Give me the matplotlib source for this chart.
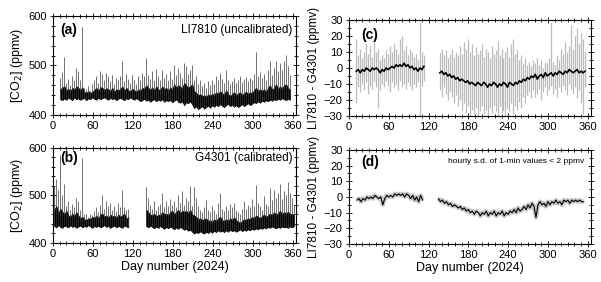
import numpy as np
import matplotlib
matplotlib.use('Agg')
import matplotlib.pyplot as plt
from matplotlib.ticker import MultipleLocator

plt.rcParams['font.family'] = ['Liberation Sans', 'DejaVu Sans']

# ---- panel (a) LI7810, 3-day bins from day 11 ----
a_start = 11
a_hi = [475, 486, 518, 465, 472, 460, 478, 470, 495, 488,
        470, 578, 455, 452, 458, 450, 462, 470, 478, 465,
        488, 482, 470, 485, 478, 468, 480, 462, 475, 470,
        478, 510, 468, 482, 472, 465, 480, 470, 462, 478,
        470, 485, 478, 515, 480, 472, 488, 470, 492, 478,
        470, 490, 475, 482, 470, 488, 472, 500, 480, 495,
        485, 475, 505, 498, 482, 490, 500, 470, 478, 462,
        470, 458, 465, 455, 468, 460, 470, 462, 478, 470,
        485, 472, 465, 490, 470, 462, 468, 475, 465, 470,
        478, 466, 472, 476, 468, 474, 470, 482, 528, 478,
        486, 475, 482, 470, 490, 510, 480, 495, 510, 488,
        505, 490, 510, 522, 498, 480]
a_mid = [452, 455, 458, 450, 453, 448, 455, 450, 458, 455,
         450, 456, 446, 445, 448, 444, 447, 450, 455, 448,
         456, 455, 450, 454, 452, 448, 455, 446, 452, 450,
         452, 458, 448, 455, 450, 447, 453, 450, 446, 452,
         448, 455, 452, 460, 455, 450, 456, 448, 458, 452,
         450, 458, 452, 455, 448, 456, 450, 462, 455, 460,
         458, 452, 465, 460, 455, 458, 462, 448, 445, 440,
         442, 438, 440, 436, 442, 438, 443, 440, 446, 442,
         448, 444, 440, 450, 442, 438, 442, 446, 440, 443,
         446, 440, 444, 447, 442, 446, 444, 450, 455, 448,
         452, 448, 452, 446, 455, 460, 450, 455, 462, 452,
         458, 452, 460, 462, 455, 450]
a_lo = [432, 430, 434, 431, 435, 433, 430, 436, 432, 434,
        431, 433, 435, 430, 434, 432, 436, 433, 431, 435,
        432, 434, 436, 433, 431, 435, 432, 434, 430, 433,
        435, 432, 430, 434, 432, 436, 433, 431, 434, 432,
        428, 430, 433, 429, 431, 427, 430, 432, 428, 431,
        429, 432, 427, 430, 428, 431, 426, 429, 432, 427,
        425, 428, 420, 426, 424, 428, 422, 414, 418, 412,
        415, 418, 413, 416, 419, 415, 420, 417, 421, 418,
        422, 419, 416, 420, 423, 418, 421, 417, 420, 416,
        419, 422, 418, 421, 424, 420, 423, 426, 424, 428,
        425, 429, 427, 430, 428, 431, 429, 432, 430, 433,
        431, 434, 432, 430, 433, 431]

# ---- panel (b) G4301, two segments ----
b1_start = 2
b1_hi = [520, 535, 512, 585, 500, 525, 478, 488, 470, 482,
         475, 495, 488, 470, 578, 460, 462, 455, 460, 458,
         468, 475, 465, 480, 500, 472, 488, 478, 485, 470,
         478, 468, 485, 475, 512, 475, 470, 472]
b1_mid = [470, 478, 462, 472, 466, 460, 468, 458, 455, 462,
          456, 465, 458, 452, 455, 450, 448, 452, 450, 455,
          452, 458, 450, 460, 462, 455, 458, 452, 460, 455,
          458, 452, 460, 455, 458, 462, 450, 455]
b1_lo = [436, 433, 438, 434, 432, 437, 435, 433, 438, 434,
         436, 432, 435, 437, 433, 436, 434, 438, 435, 432,
         436, 434, 437, 433, 435, 438, 434, 436, 432, 435,
         437, 433, 436, 434, 432, 437, 435, 433]
b2_start = 140
b2_hi = [518, 495, 480, 472, 488, 470, 478, 482, 505, 475,
         488, 478, 492, 480, 488, 475, 502, 485, 510, 480,
         495, 488, 520, 478, 518, 495, 478, 470, 465, 475,
         490, 470, 465, 478, 470, 462, 485, 505, 472, 468,
         478, 470, 482, 475, 485, 470, 465, 460, 472, 488,
         472, 480, 475, 492, 478, 522, 485, 478, 470, 498,
         482, 478, 515, 490, 512, 495, 505, 525, 492, 510,
         500, 528, 505, 495, 480]
b2_mid = [470, 465, 460, 458, 462, 455, 460, 458, 465, 460,
          462, 458, 465, 468, 460, 465, 470, 462, 468, 465,
          468, 462, 470, 460, 458, 455, 450, 452, 448, 450,
          452, 446, 448, 444, 450, 446, 452, 455, 448, 446,
          450, 446, 452, 448, 454, 448, 445, 442, 446, 450,
          448, 452, 450, 455, 452, 458, 455, 452, 456, 460,
          455, 458, 462, 458, 465, 460, 462, 468, 460, 465,
          462, 466, 460, 462, 458]
b2_lo = [436, 433, 437, 434, 431, 435, 432, 436, 433, 430,
         434, 431, 435, 432, 429, 433, 430, 434, 431, 428,
         430, 426, 428, 424, 420, 423, 421, 425, 422, 420,
         424, 421, 425, 422, 426, 423, 427, 424, 426, 423,
         427, 424, 428, 425, 427, 424, 426, 429, 425, 428,
         426, 429, 427, 430, 428, 431, 429, 432, 430, 433,
         431, 434, 432, 435, 433, 431, 434, 432, 435, 433,
         434, 432, 435, 433, 436]

# ---- panel (c) hourly difference: mean (black) and range (grey) ----
c1_start = 11
c1_mean = [-2, -1, -3, -1, -2, 0, -1, -2, 0, -1, 0, -1, -3, -1, -2, 0, -1, 0,
           1, 0, 2, 1, 2, 1, 3, 1, 2, 0, 1, -1, 0, -2, 0, -1, 1]
c1_hi = [18, 8, 12, 6, 10, 15, 9, 14, 7, 16, 10, 12, 5, 8, 6, 11, 9, 14,
         10, 15, 12, 9, 18, 20, 11, 14, 8, 12, 10, 7, 9, 5, 29, 10, 8]
c1_lo = [-22, -12, -15, -10, -14, -9, -16, -11, -13, -8, -12, -25, -14, -10,
         -12, -8, -11, -15, -9, -12, -10, -14, -8, -12, -10, -13, -9, -11,
         -14, -10, -12, -9, -30, -11, -8]
c2_start = 137
c2_mean = [-3, -2, -4, -3, -5, -4, -6, -5, -7, -6,
           -8, -7, -8, -9, -8, -10, -9, -10, -11, -9,
           -10, -11, -9, -10, -12, -10, -11, -9, -10, -12,
           -10, -11, -9, -10, -12, -9, -10, -11, -9, -10,
           -8, -9, -7, -8, -6, -7, -5, -6, -4, -7,
           -5, -4, -6, -3, -5, -4, -3, -5, -3, -4,
           -2, -3, -4, -2, -3, -1, -2, -3, -2, -1,
           -3, -2, -3, -2]
c2_hi = [10, 12, 8, 11, 6, 9, 12, 7, 10, 8,
         14, 9, 16, 12, 18, 10, 15, 8, 13, 9,
         11, 15, 7, 12, 10, 6, 14, 9, 11, 17,
         8, 12, 6, 10, 13, 7, 15, 18, 9, 11,
         5, 8, 3, 6, 2, 4, 1, 5, 3, 6,
         2, 5, 0, 4, 3, 6, 29, 4, 2, 8,
         5, 12, 9, 16, 10, 14, 27, 12, 20, 25,
         15, 22, 18, 10]
c2_lo = [-14, -18, -12, -16, -20, -15, -18, -22, -17, -24,
         -20, -26, -22, -28, -24, -30, -26, -29, -25, -30,
         -27, -24, -29, -26, -30, -25, -28, -23, -27, -30,
         -24, -28, -26, -30, -25, -27, -22, -29, -24, -26,
         -21, -25, -18, -22, -17, -15, -19, -14, -18, -16,
         -13, -20, -15, -12, -17, -14, -11, -16, -13, -18,
         -12, -15, -11, -14, -17, -10, -13, -16, -12, -19,
         -14, -22, -29, -12]

# ---- panel (d) filtered difference ----
d1_start = 12
d1 = [-2, -1, -3, -1, -2, 0, -1, 0, -1, 1, 0, -1, 0, -5, -1, 1, 0, 1, 0, 2,
      1, 2, 1, 2, 0, 2, 1, -1, 1, -2, 0, -3, 1, -2]
d2_start = 135
d2 = [-1, -3, -2, -4, -3, -5, -4, -6, -5, -6,
      -7, -6, -8, -7, -9, -8, -10, -9, -11, -9,
      -10, -12, -10, -11, -9, -12, -10, -11, -9, -12,
      -10, -11, -9, -12, -10, -11, -9, -10, -8, -10,
      -7, -9, -8, -6, -8, -5, -7, -4, -6, -13,
      -5, -3, -5, -4, -6, -3, -5, -3, -4, -2,
      -4, -3, -5, -2, -3, -2, -4, -2, -3, -2,
      -3, -2, -3, -3]

step = 3
xticks = [0, 60, 120, 180, 240, 300, 360]


def days(start, vals):
    return start + step * np.arange(len(vals))


def style(ax, ymaj, ymin, ylim):
    ax.set_xlim(0, 365)
    ax.set_ylim(*ylim)
    ax.set_xticks(xticks)
    ax.xaxis.set_minor_locator(MultipleLocator(10))
    ax.yaxis.set_major_locator(MultipleLocator(ymaj))
    ax.yaxis.set_minor_locator(MultipleLocator(ymin))
    ax.tick_params(which='both', direction='inout', top=True, right=True,
                   labelsize=8, width=0.6, pad=2)
    ax.tick_params(which='major', length=5)
    ax.tick_params(which='minor', length=3)
    for s in ax.spines.values():
        s.set_linewidth(0.8)


def conc(ax, start, lo, mid, hi):
    x = days(start, lo)
    ax.vlines(x, lo, hi, color='#3a3a3a', lw=0.5)
    ax.fill_between(x, lo, mid, color='k', lw=0.6, edgecolor='k')


fig = plt.figure(figsize=(6.01, 2.82), dpi=100)
axa = fig.add_axes([0.0882, 0.5922, 0.4043, 0.3511])
axb = fig.add_axes([0.0882, 0.1383, 0.4043, 0.3369])
axc = fig.add_axes([0.5807, 0.5887, 0.4027, 0.3404])
axd = fig.add_axes([0.5807, 0.1348, 0.4027, 0.3333])

conc(axa, a_start, a_lo, a_mid, a_hi)
conc(axb, b1_start, b1_lo, b1_mid, b1_hi)
conc(axb, b2_start, b2_lo, b2_mid, b2_hi)

for st, m, lo, hi in [(c1_start, c1_mean, c1_lo, c1_hi), (c2_start, c2_mean, c2_lo, c2_hi)]:
    x = days(st, m)
    axc.vlines(x, lo, hi, color='#bcbcbc', lw=0.9)
    axc.plot(x, m, color='k', lw=1.2)

for st, v in [(d1_start, d1), (d2_start, d2)]:
    x = days(st, v)
    axd.plot(x, v, color='#a0a0a0', lw=3.2, alpha=0.6, solid_capstyle='butt')
    axd.plot(x, v, color='k', lw=0.8)

style(axa, 100, 20, (400, 600))
style(axb, 100, 20, (400, 600))
style(axc, 10, 5, (-30, 30))
style(axd, 10, 5, (-30, 30))

for ax in (axa, axb):
    ax.set_ylabel('[CO$_2$] (ppmv)', fontsize=9, labelpad=2)
for ax in (axc, axd):
    ax.set_ylabel('LI7810 - G4301 (ppmv)', fontsize=8.5, labelpad=3)
for ax in (axb, axd):
    ax.set_xlabel('Day number (2024)', fontsize=9, labelpad=1)

axa.text(0.03, 0.86, '(a)', transform=axa.transAxes, fontsize=10, fontweight='bold', va='center')
axb.text(0.03, 0.89, '(b)', transform=axb.transAxes, fontsize=10, fontweight='bold', va='center')
axc.text(0.05, 0.84, '(c)', transform=axc.transAxes, fontsize=10, fontweight='bold', va='center')
axd.text(0.05, 0.87, '(d)', transform=axd.transAxes, fontsize=10, fontweight='bold', va='center')
axa.text(0.985, 0.86, 'LI7810 (uncalibrated)', transform=axa.transAxes, fontsize=8.5,
         ha='right', va='center')
axb.text(0.985, 0.89, 'G4301 (calibrated)', transform=axb.transAxes, fontsize=8.5,
         ha='right', va='center')
axd.text(0.97, 0.88, 'hourly s.d. of 1-min values < 2 ppmv', transform=axd.transAxes,
         fontsize=6, ha='right', va='center')

fig.savefig('out.png', dpi=100)
